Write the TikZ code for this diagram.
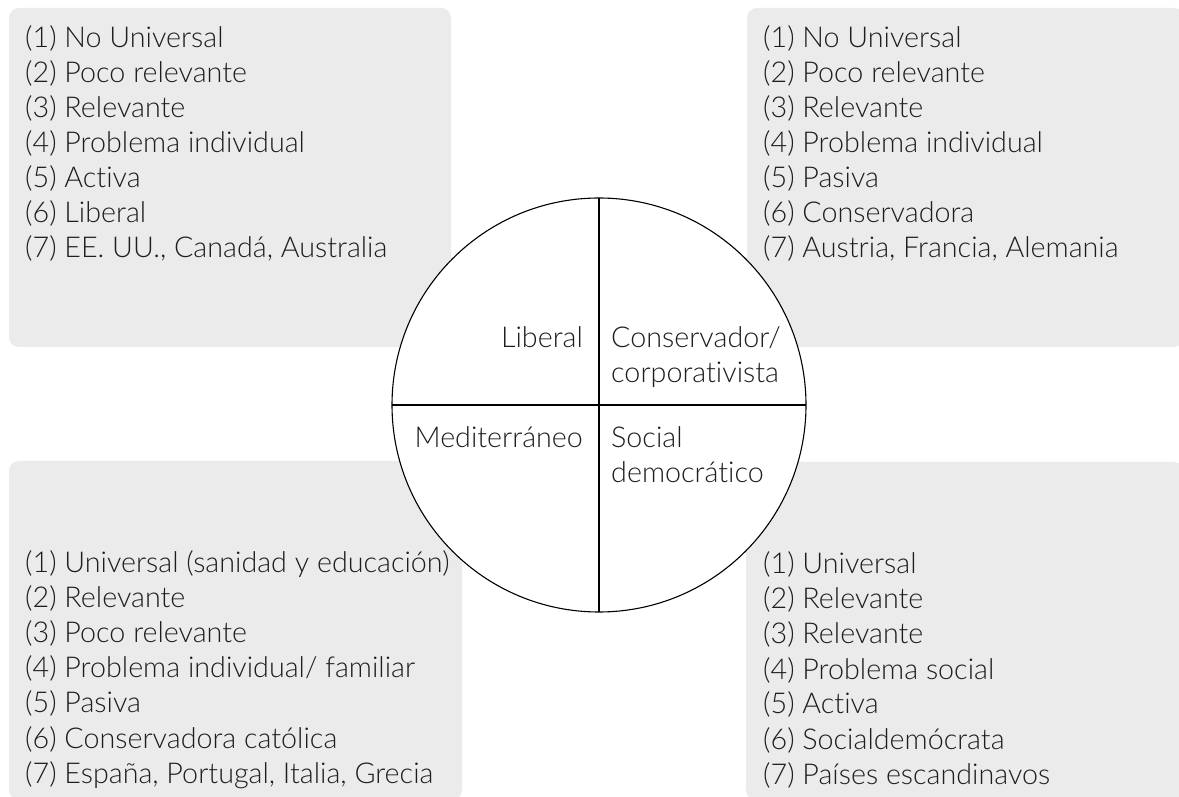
\documentclass[tikz,border=0pt]{standalone}
\usepackage{fontspec}
\setmainfont{Lato Light}[Ligatures = NoCommon]
\definecolor{boxgray}{HTML}{EBEBEB}
\definecolor{textgray}{HTML}{1E1E1E}
\tikzset{
  panel/.style = {fill = boxgray, rounded corners = 10pt},
  item/.style = {anchor = base west, inner sep = 0pt, text = textgray,
    font = \fontsize{28.7}{35}\selectfont},
  sector/.style = {inner sep = 0pt, text = textgray,
    font = \fontsize{28.7}{35}\selectfont}
}
\begin{document}
\begin{tikzpicture}[x = 1pt, y = 1pt]
      \useasboundingbox (0, 0) rectangle (1179, 796);
      \fill [panel] (9, 449) rectangle (451, 788);
      \fill [panel] (747, 449) rectangle (1184, 788);
      \fill [panel] (9, -4) rectangle (462, 335);
      \fill [panel] (746, -4) rectangle (1184, 334);
      \foreach \t [count = \i] in {{(1) No Universal}, {(2) Poco relevante},
        {(3) Relevante}, {(4) Problema individual}, {(5) Activa},
        {(6) Liberal}, {(7) EE.~UU., Canadá, Australia}}{
        \node [item] (lib-\i) at (25, 748 - 35 * \i + 35) {\t};
      }
      \foreach \t [count = \i] in {{(1) No Universal}, {(2) Poco relevante},
        {(3) Relevante}, {(4) Problema individual}, {(5) Pasiva},
        {(6) Conservadora}, {(7) Austria, Francia, Alemania}}{
        \node [item] (con-\i) at (763, 748 - 35 * \i + 35) {\t};
      }
      \foreach \t [count = \i] in {{(1) Universal (sanidad y educación)},
        {(2) Relevante}, {(3) Poco relevante},
        {(4) Problema individual/ familiar}, {(5) Pasiva},
        {(6) Conservadora católica}, {(7) España, Portugal, Italia, Grecia}}{
        \node [item] (med-\i) at (25, 223 - 35 * \i + 35) {\t};
      }
      \foreach \t [count = \i] in {{(1) Universal}, {(2) Relevante},
        {(3) Relevante}, {(4) Problema social}, {(5) Activa},
        {(6) Socialdemócrata}, {(7) Países escandinavos}}{
        \node [item] (soc-\i) at (763, 222 - 35 * \i + 35) {\t};
      }
      \begin{scope}[shift = {(599, 391)}]
        \coordinate (c) at (0, 0);
        \filldraw [fill = white, line width = 1.1pt] (c) circle [radius = 207];
        \draw [line width = 1.1pt] (c) ++(0, 207) coordinate (top) -- (0, -207) coordinate (bot);
        \draw [line width = 1.1pt] (-207, 0) coordinate (lft) -- (207, 0) coordinate (rgt);
        \node [sector, anchor = base east] (liberal) at (-16, 57) {Liberal};
        \node [sector, anchor = base west] (conserv) at (12, 57) {Conservador/};
        \node [sector, anchor = base west] (corpor) at (12, 22) {corporativista};
        \node [sector, anchor = base east] (mediter) at (-16, -43) {Mediterráneo};
        \node [sector, anchor = base west] (social) at (12, -43) {Social};
        \node [sector, anchor = base west] (democ) at (12, -78) {democrático};
      \end{scope}
    \end{tikzpicture}
\end{document}
